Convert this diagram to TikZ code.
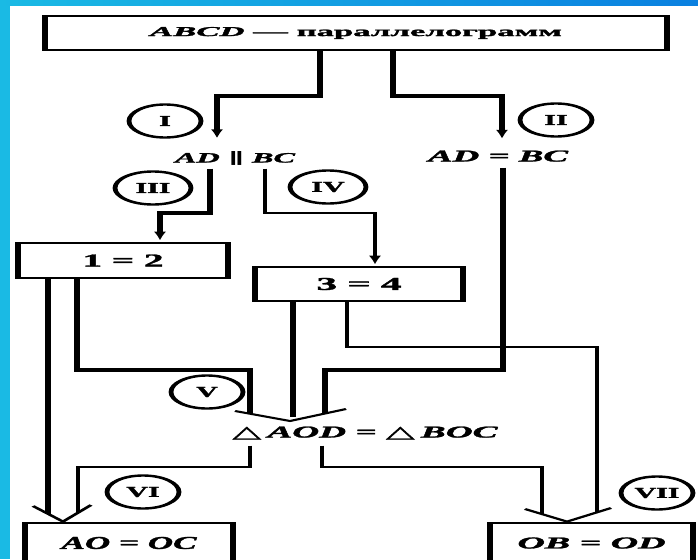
\documentclass[tikz,border=0pt]{standalone}
\usepackage{fontspec}
\setmainfont{Liberation Serif}[BoldFeatures={FakeBold=1.5}, BoldItalicFeatures={FakeBold=1.5}]
\newfontfamily\symfnt{DejaVu Sans}[BoldFeatures={FakeBold=1.5}]
\usetikzlibrary{arrows.meta,shapes.geometric}
\definecolor{cyanbg}{RGB}{26,186,228}
\definecolor{bluebg}{RGB}{10,128,224}
\newcommand{\fitto}[3]{\resizebox{#1}{#2}{#3}}
\newcommand{\symtri}{{\symfnt\bfseries △}}
\newcommand{\sympar}{{\symfnt\bfseries ∥}}
\tikzset{
  boxnode/.style={draw, line width=2.8pt, rectangle, inner sep=0pt, minimum height=34pt},
  txtnode/.style={inner xsep=0pt, inner ysep=6pt, text height=17pt, text depth=0pt, anchor=base},
  ring/.style={draw, ellipse, line width=2.4pt, inner sep=0pt, minimum width=36pt, minimum height=33pt, font=\bfseries\fontsize{15}{15}\selectfont},
  thickline/.style={line width=3.2pt},
  thinline/.style={line width=2.3pt},
  tipped/.style={-{Latex[length=10pt,width=6pt]}},
  vmark/.style={line width=2pt},
}
\begin{document}
\begin{tikzpicture}[x=1pt,y=-1pt]
\useasboundingbox (0,0) rectangle (698,559);
\fill[white] (0,0) rectangle (698,559);
\fill[cyanbg] (0,0) rectangle (10,559);
\shade[left color=cyanbg,right color=bluebg] (0,0) rectangle (698,6);
\begin{scope}
\clip (10,6) rectangle (698,559);
\begin{scope}[transform canvas={xscale=2}, x=0.5pt, y=-1pt]
% nodes
\node[boxnode, minimum width=311pt] (top) at (356,33) {\fitto{206pt}{9pt}{\bfseries\itshape ABCD\/ \upshape --- параллелограмм}};
\node[txtnode] (adpar) at (235,162.5) {\fitto{60pt}{11pt}{\bfseries\itshape AD \sympar{} BC}};
\node[txtnode, text height=15.5pt] (adeq) at (498,161.5) {\fitto{70pt}{11pt}{\bfseries\itshape AD = BC}};
\node[boxnode, minimum width=105pt, minimum height=35pt] (b3) at (123,260.5) {\fitto{40.5pt}{12pt}{\bfseries 1 = 2}};
\node[boxnode, minimum width=104pt] (b4) at (359,284) {\fitto{42.5pt}{12pt}{\bfseries 3 = 4}};
\node[anchor=base, inner xsep=0pt, inner ysep=8pt, text depth=0pt] (tri) at (365,437.5) {\fitto{132.5pt}{11pt}{\bfseries\symtri\,\itshape AOD = \upshape\symtri\,\itshape BOC}};
\node[boxnode, minimum width=104pt, minimum height=40pt] (b6) at (129,543) {\fitto{67.5pt}{12pt}{\bfseries\itshape AO = OC}};
\node[boxnode, minimum width=101.5pt, minimum height=40pt] (b7) at (591.5,543) {\fitto{74pt}{11pt}{\bfseries\itshape OB = OD}};
\node[ring] (r1) at (165,121) {I};
\node[ring] (r2) at (556,120) {II};
\node[ring, minimum width=38pt] (r3) at (153,188) {III};
\node[ring, minimum width=38pt] (r4) at (328,187) {IV};
\node[ring] (r5) at (207,392) {V};
\node[ring] (r6) at (143,492) {VI};
\node[ring] (r7) at (657,493) {VII};
% bend points
\coordinate (p1a) at (320,96);  \coordinate (p1b) at (217,96);
\coordinate (p2a) at (393,96);  \coordinate (p2b) at (502,96);
\coordinate (p3a) at (210,213); \coordinate (p3b) at (160,213);
\coordinate (p4a) at (265,213); \coordinate (p4b) at (375,213);
\coordinate (p5a) at (503,370); \coordinate (p5b) at (325,370); \coordinate (e5) at (325,413.5);
\coordinate (p6a) at (77,370);  \coordinate (p6b) at (250,370); \coordinate (e6) at (250,414);
\coordinate (e7) at (293,417);
\coordinate (e8) at (48,514);
\coordinate (p9a) at (250,467); \coordinate (p9b) at (78,467); \coordinate (e9) at (78,513);
\coordinate (p10a) at (347,347); \coordinate (p10b) at (597,347); \coordinate (e10) at (597,512.5);
\coordinate (p11a) at (322,467); \coordinate (p11b) at (542,467); \coordinate (e11) at (542,514);
% V-shaped collecting heads
\coordinate (v1l) at (235,411); \coordinate (v1t) at (290,421); \coordinate (v1r) at (346,409);
\coordinate (v2l) at (33,506);  \coordinate (v2t) at (63,522);  \coordinate (v2r) at (91,505);
\coordinate (v3l) at (525,509); \coordinate (v3t) at (567,522); \coordinate (v3r) at (611,508);
% connectors
\draw[thickline,tipped] (top.south -| p1a) -- (p1a) -- (p1b) -- (adpar.north -| p1b);
\draw[thickline,tipped] (top.south -| p2a) -- (p2a) -- (p2b) -- (adeq.north -| p2b);
\draw[thickline,tipped] (adpar.south -| p3a) -- (p3a) -- (p3b) -- (b3.north -| p3b);
\draw[thinline,tipped] (adpar.south -| p4a) -- (p4a) -- (p4b) -- (b4.north -| p4b);
\draw[thickline] (adeq.south -| p5a) -- (p5a) -- (p5b) -- (e5);
\draw[thickline] (b3.south -| p6a) -- (p6a) -- (p6b) -- (e6);
\draw[thickline] (b4.south -| e7) -- (e7);
\draw[thickline] (b3.south -| e8) -- (e8);
\draw[thinline] (tri.south -| p9a) -- (p9a) -- (p9b) -- (e9);
\draw[thinline] (b4.south -| p10a) -- (p10a) -- (p10b) -- (e10);
\draw[thinline] (tri.south -| p11a) -- (p11a) -- (p11b) -- (e11);
\draw[vmark] (v1l) -- (v1t) -- (v1r);
\draw[vmark] (v2l) -- (b6.north -| v2t) -- (v2r);
\draw[vmark] (v3l) -- (b7.north -| v3t) -- (v3r);
\end{scope}
\end{scope}
\end{tikzpicture}
\end{document}
